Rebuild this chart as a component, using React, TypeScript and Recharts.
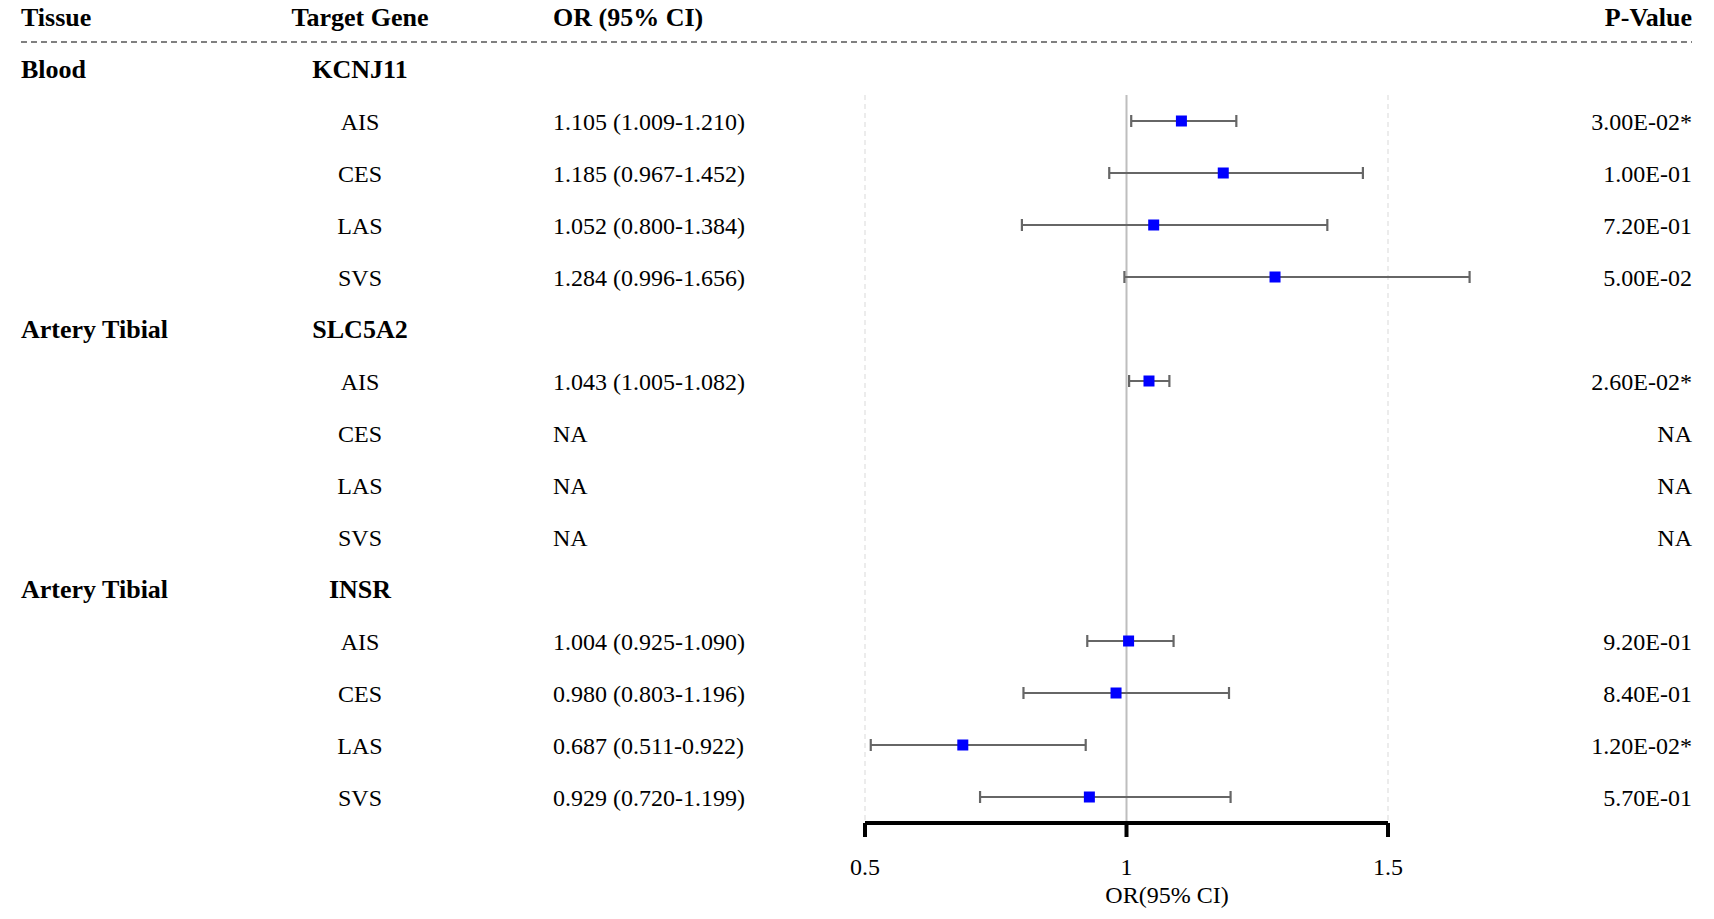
import React from "react";
import { ComposedChart, Scatter, ErrorBar, XAxis, YAxis, ReferenceLine } from "recharts";

const HEADERS = ["Tissue", "Target Gene", "OR (95% CI)", "P-Value"];
const TISSUES = ["Blood", "Artery Tibial", "Artery Tibial"];
const GENES = ["KCNJ11", "SLC5A2", "INSR"];
const OUTCOMES = ["AIS", "CES", "LAS", "SVS"];
const OR_VALUES = [
  [1.105, 1.185, 1.052, 1.284],
  [1.043, null, null, null],
  [1.004, 0.98, 0.687, 0.929],
];
const CI_LOWER = [
  [1.009, 0.967, 0.8, 0.996],
  [1.005, null, null, null],
  [0.925, 0.803, 0.511, 0.72],
];
const CI_UPPER = [
  [1.21, 1.452, 1.384, 1.656],
  [1.082, null, null, null],
  [1.09, 1.196, 0.922, 1.199],
];
const P_VALUES = [
  ["3.00E-02*", "1.00E-01", "7.20E-01", "5.00E-02"],
  ["2.60E-02*", "NA", "NA", "NA"],
  ["9.20E-01", "8.40E-01", "1.20E-02*", "5.70E-01"],
];
const X_TICKS = [0.5, 1, 1.5];

const FONT = '"Liberation Serif", "Times New Roman", serif';

type Row = {
  row: number;
  tissue?: string;
  gene: string;
  bold: boolean;
  ci?: string;
  p?: string;
  or?: number | null;
  err?: [number, number];
};

const fmt = (v: number) => v.toFixed(3);

const ROWS: Row[] = [];
let r = 0;
GENES.forEach((gene, g) => {
  ROWS.push({ row: r++, tissue: TISSUES[g], gene, bold: true });
  OUTCOMES.forEach((o, k) => {
    const or = OR_VALUES[g][k];
    const lo = CI_LOWER[g][k];
    const hi = CI_UPPER[g][k];
    ROWS.push({
      row: r++,
      gene: o,
      bold: false,
      ci: or == null ? "NA" : `${fmt(or)} (${fmt(lo as number)}-${fmt(hi as number)})`,
      p: P_VALUES[g][k],
      or,
      err: or == null ? undefined : [or - (lo as number), (hi as number) - or],
    });
  });
});
const POINTS = ROWS.filter((d) => d.or != null);
const Y_TICKS = [-1, ...ROWS.map((d) => d.row)];
const LAST = ROWS.length - 1;

const COL_TISSUE = 21;
const COL_GENE = 360;
const COL_CI = 553;
const COL_P = 1692;

function RowTick(props: any) {
  const { y, payload } = props;
  const idx = payload.value as number;
  const base = y + 8.5;
  if (idx === -1) {
    const st = { fontFamily: FONT, fontSize: 26, fontWeight: 700, fill: "#000" };
    return (
      <g>
        <text x={COL_TISSUE} y={base} {...st}>{HEADERS[0]}</text>
        <text x={COL_GENE} y={base} textAnchor="middle" {...st}>{HEADERS[1]}</text>
        <text x={COL_CI} y={base} {...st}>{HEADERS[2]}</text>
        <text x={COL_P} y={base} textAnchor="end" {...st}>{HEADERS[3]}</text>
        <line x1={COL_TISSUE} x2={COL_P} y1={y + 25} y2={y + 25} stroke="#000" strokeWidth={1} strokeDasharray="6 4" />
      </g>
    );
  }
  const d = ROWS[idx];
  if (!d) return null;
  if (d.bold) {
    const st = { fontFamily: FONT, fontSize: 26, fontWeight: 700, fill: "#000" };
    return (
      <g>
        <text x={COL_TISSUE} y={base} {...st}>{d.tissue}</text>
        <text x={COL_GENE} y={base} textAnchor="middle" {...st}>{d.gene}</text>
      </g>
    );
  }
  const st = { fontFamily: FONT, fontSize: 24, fill: "#000" };
  return (
    <g>
      <text x={COL_GENE} y={base} textAnchor="middle" {...st}>{d.gene}</text>
      <text x={COL_CI} y={base} {...st}>{d.ci}</text>
      <text x={COL_P} y={base} textAnchor="end" {...st}>{d.p}</text>
    </g>
  );
}

const Square = (props: any) => {
  const { cx, cy } = props;
  if (cx == null || cy == null) return null;
  return <rect x={cx - 5.5} y={cy - 5.5} width={11} height={11} fill="#0000FF" />;
};

export default function App() {
  return (
    <div style={{ position: "absolute", left: 0, top: 0, background: "#fff" }}>
      <ComposedChart
        width={1714}
        height={919}
        data={POINTS}
        margin={{ top: 4, right: 64.5, bottom: 0, left: 0 }}
      >
        <XAxis
          type="number"
          dataKey="or"
          domain={[0, 2]}
          ticks={X_TICKS}
          interval={0}
          height={96}
          axisLine={false}
          tickLine={{ stroke: "#000", strokeWidth: 4 }}
          tickSize={14}
          tickMargin={21}
          tick={{ fontFamily: FONT, fontSize: 24, fill: "#000" }}
          label={{
            content: (p: any) => (
              <text
                x={p.viewBox.x + p.viewBox.width / 2 + 40.5}
                y={p.viewBox.y + 80}
                textAnchor="middle"
                fontFamily={FONT}
                fontSize={24}
                fill="#000"
              >
                OR(95% CI)
              </text>
            ),
          }}
        />
        <YAxis
          type="number"
          dataKey="row"
          domain={[-1.25, LAST + 0.5]}
          reversed
          ticks={Y_TICKS}
          interval={0}
          width={603.5}
          axisLine={false}
          tickLine={false}
          tick={<RowTick />}
        />
        <ReferenceLine
          segment={[{ x: 0.5, y: 0.5 }, { x: 0.5, y: LAST + 0.5 }]}
          stroke="#d9d9d9"
          strokeWidth={1}
          strokeDasharray="5 4"
        />
        <ReferenceLine
          segment={[{ x: 1.5, y: 0.5 }, { x: 1.5, y: LAST + 0.5 }]}
          stroke="#d9d9d9"
          strokeWidth={1}
          strokeDasharray="5 4"
        />
        <ReferenceLine
          segment={[{ x: 1, y: 0.5 }, { x: 1, y: LAST + 0.5 }]}
          stroke="#bebebe"
          strokeWidth={2}
        />
        <ReferenceLine
          segment={[{ x: 0.5, y: LAST + 0.5 }, { x: 1.5, y: LAST + 0.5 }]}
          stroke="#000"
          strokeWidth={4}
        />
        <Scatter dataKey="or" shape={<Square />} isAnimationActive={false}>
          <ErrorBar dataKey="err" direction="x" width={6} stroke="#666666" strokeWidth={2.2} />
        </Scatter>
      </ComposedChart>
    </div>
  );
}
